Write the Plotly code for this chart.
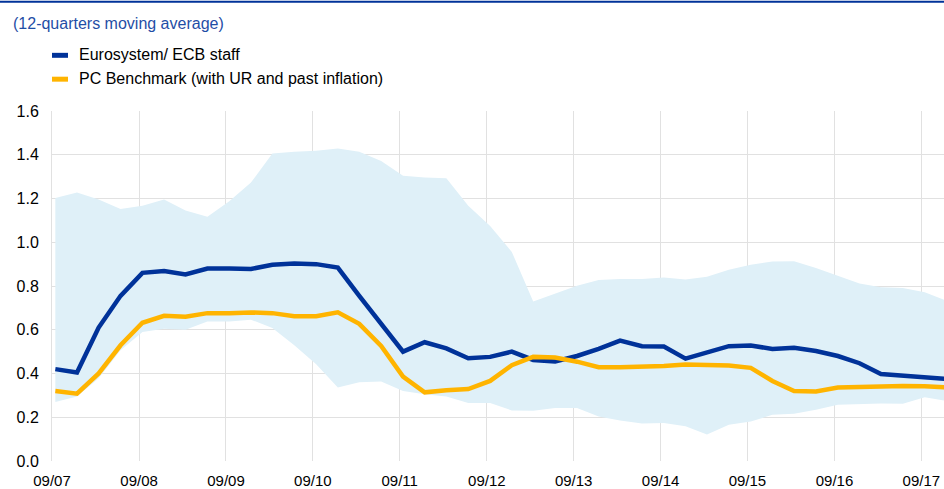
import pandas as pd
import plotly.graph_objects as go

# Quarterly observations, Q3 2007 to Q4 2017 (12-quarter moving averages)
quarters = pd.date_range("2007-09-01", "2017-12-01", freq="3MS") + pd.Timedelta(days=14)

eurosystem = [0.42, 0.405,
              0.61, 0.755, 0.86, 0.868,
              0.853, 0.88, 0.88, 0.878,
              0.897, 0.903, 0.90, 0.884,
              0.755, 0.63, 0.50, 0.543,
              0.515, 0.47, 0.476, 0.50,
              0.462, 0.455, 0.48, 0.513,
              0.55, 0.525, 0.523, 0.468,
              0.498, 0.525, 0.528, 0.512,
              0.518, 0.503, 0.48, 0.447,
              0.398, 0.39, 0.385, 0.375]

pc_benchmark = [0.32, 0.308,
                0.40, 0.529, 0.632, 0.664,
                0.659, 0.676, 0.676, 0.679,
                0.676, 0.662, 0.662, 0.680,
                0.627, 0.526, 0.386, 0.314,
                0.323, 0.329, 0.366, 0.438,
                0.476, 0.473, 0.454, 0.429,
                0.429, 0.431, 0.434, 0.441,
                0.437, 0.437, 0.426, 0.366,
                0.320, 0.318, 0.336, 0.339,
                0.343, 0.343, 0.342, 0.336]

range_upper = [1.202, 1.228,
               1.195, 1.152, 1.167, 1.195,
               1.145, 1.116, 1.187, 1.273,
               1.406, 1.414, 1.418, 1.429,
               1.414, 1.372, 1.304, 1.296,
               1.293, 1.167, 1.074, 0.956,
               0.729, 0.764, 0.801, 0.827,
               0.832, 0.832, 0.839, 0.830,
               0.842, 0.874, 0.897, 0.912,
               0.913, 0.882, 0.847, 0.812,
               0.794, 0.791, 0.771, 0.733]

range_lower = [0.27, 0.295,
               0.378, 0.506, 0.590, 0.605,
               0.600, 0.638, 0.638, 0.646,
               0.608, 0.529, 0.442, 0.336,
               0.360, 0.363, 0.320, 0.305,
               0.295, 0.265, 0.265, 0.231,
               0.230, 0.242, 0.242, 0.204,
               0.185, 0.171, 0.174, 0.159,
               0.121, 0.166, 0.181, 0.211,
               0.216, 0.234, 0.257, 0.260,
               0.263, 0.262, 0.292, 0.275]

tick_dates = pd.date_range("2007-09-01", "2017-09-01", freq="12MS")
tick_labels = ["09/07", "09/08", "09/09", "09/10", "09/11", "09/12",
               "09/13", "09/14", "09/15", "09/16", "09/17"]
y_ticks = [0.0, 0.2, 0.4, 0.6, 0.8, 1.0, 1.2, 1.4, 1.6]

series_names = ["Eurosystem/ ECB staff", "PC Benchmark (with UR and past inflation)"]
subtitle = "(12-quarters moving average)"

DARK_BLUE = "#003299"
SUB_BLUE = "#1f4ea6"
YELLOW = "#ffb400"
BAND = "#dff0f8"
GRID = "#e1e1e1"
FONT = "Arial, Liberation Sans, sans-serif"

W, H = 944, 489
L, R, T, B = 52, 0, 111, 26

fig = go.Figure()

# Range band between lower and upper bounds
fig.add_trace(go.Scatter(x=quarters, y=range_lower, mode="lines",
                         line=dict(width=0, color=BAND), showlegend=False,
                         hoverinfo="skip"))
fig.add_trace(go.Scatter(x=quarters, y=range_upper, mode="lines",
                         line=dict(width=0, color=BAND), fill="tonexty",
                         fillcolor=BAND, showlegend=False, hoverinfo="skip"))

fig.add_trace(go.Scatter(x=quarters, y=eurosystem, mode="lines",
                         name=series_names[0],
                         line=dict(color=DARK_BLUE, width=4.5), showlegend=False))
fig.add_trace(go.Scatter(x=quarters, y=pc_benchmark, mode="lines",
                         name=series_names[1],
                         line=dict(color=YELLOW, width=4.5), showlegend=False))

plot_w = W - L - R
plot_h = H - T - B


def px_x(px):
    return (px - L) / plot_w


def px_y(py):
    return (H - B - py) / plot_h


shapes = [
    # rule across the top of the figure
    dict(type="line", xref="paper", yref="paper",
         x0=px_x(0), x1=px_x(W), y0=px_y(1), y1=px_y(1),
         line=dict(color=DARK_BLUE, width=2)),
]
annotations = [
    dict(text=subtitle, xref="paper", yref="paper", x=px_x(11), y=px_y(23),
         xanchor="left", yanchor="middle", showarrow=False,
         font=dict(family=FONT, size=16, color=SUB_BLUE)),
]

# Legend: colour key plus label for each series
legend_colors = [DARK_BLUE, YELLOW]
for i, (name, col) in enumerate(zip(series_names, legend_colors)):
    cy = 55 + 24 * i
    shapes.append(dict(type="rect", xref="paper", yref="paper",
                       x0=px_x(52), x1=px_x(68), y0=px_y(cy - 2.5), y1=px_y(cy + 2.5),
                       fillcolor=col, line=dict(width=0)))
    annotations.append(dict(text=name, xref="paper", yref="paper",
                            x=px_x(77), y=px_y(cy - 1), xanchor="left", yanchor="middle",
                            showarrow=False,
                            font=dict(family=FONT, size=16, color="#000000")))

fig.update_layout(
    width=W, height=H,
    margin=dict(l=L, r=R, t=T, b=B, pad=0),
    paper_bgcolor="white", plot_bgcolor="white",
    font=dict(family=FONT, size=15, color="#000000"),
    shapes=shapes, annotations=annotations,
    showlegend=False,
    xaxis=dict(type="date", range=["2007-09-01", "2017-12-05"],
               tickvals=tick_dates, ticktext=tick_labels,
               showgrid=True, gridcolor=GRID, gridwidth=1,
               showline=False, zeroline=False,
               ticks="outside", ticklen=6, tickcolor="rgba(0,0,0,0)",
               tickfont=dict(family=FONT, size=15, color="#000000")),
    yaxis=dict(range=[0, 1.6], tickvals=y_ticks, tickformat=".1f",
               showgrid=True, gridcolor=GRID, gridwidth=1,
               showline=True, linecolor=GRID, linewidth=1,
               zeroline=False,
               ticks="outside", ticklen=9, tickcolor="rgba(0,0,0,0)",
               tickfont=dict(family=FONT, size=16, color="#000000")),
)

fig.write_html("out.html")
